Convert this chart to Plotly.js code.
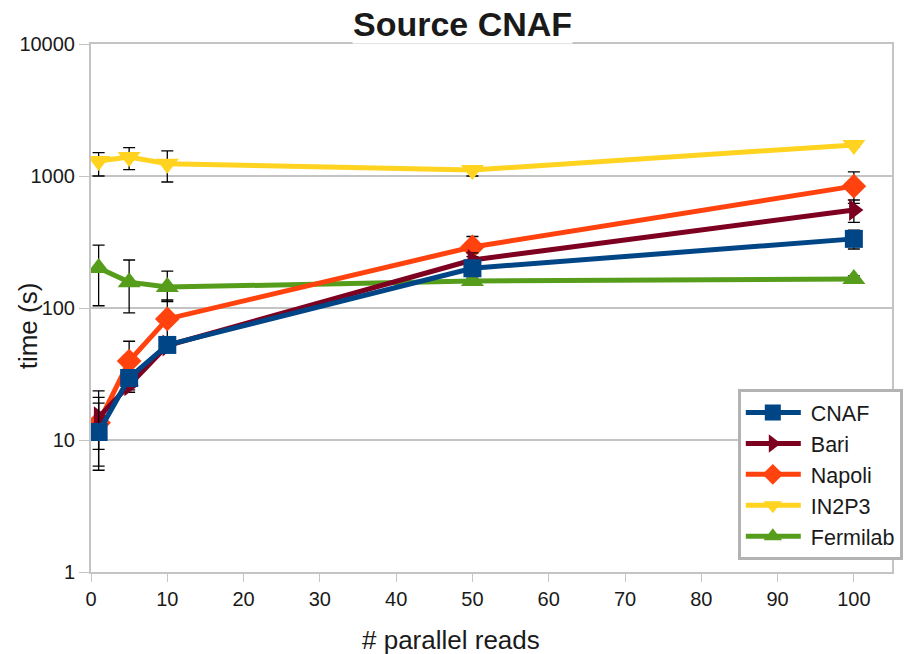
<!DOCTYPE html>
<html><head><meta charset="utf-8">
<script src="https://cdn.plot.ly/plotly-3.0.1.min.js"></script>
<style>body{margin:0;background:#fff}#c{width:904px;height:654px}</style>
</head><body><div id="c"></div>
<script>
const xs = [1, 5, 10, 50, 100];
const seriesNames = ["CNAF", "Bari", "Napoli", "IN2P3", "Fermilab"];
const cnaf = [11.5, 29.5, 52.5, 200, 334];
const cnafHi = [19, 34, 58, 227, 388];
const cnafLo = [8.5, 25.5, 47, 176, 280];
const bari = [14.9, 26, 52, 231, 553];
const bariHi = [23.6, 30, 57, 262, 658];
const bariLo = [5.9, 23, 48, 205, 446];
const napoli = [13.5, 39.6, 82.7, 290, 838];
const napoliHi = [21, 56, 115, 348, 1075];
const napoliLo = [6.35, 24, 60, 245, 620];
const in2p3 = [1300, 1395, 1240, 1110, 1720];
const in2p3Hi = [1502, 1640, 1549, 1184, 1800];
const in2p3Lo = [1000, 1116, 901, 1000, 1661];
const fermilab = [201, 157, 144, 160, 166];
const fermilabHi = [299, 231, 190, 168, 175];
const fermilabLo = [104, 92, 112, 152, 158];
const xTickVals = [0, 10, 20, 30, 40, 50, 60, 70, 80, 90, 100];
const yTickVals = [1, 10, 100, 1000, 10000];
const yTickText = ["1", "10", "100", "1000", "10000"];

const colors = ["#004586", "#7e0021", "#ff420e", "#ffd320", "#579d1c"];
const symbols = ["square", "triangle-right", "diamond", "triangle-down", "triangle-up"];
const sizes = [18, 19, 19, 20, 20];
const vals = [cnaf, bari, napoli, in2p3, fermilab];
const his = [cnafHi, bariHi, napoliHi, in2p3Hi, fermilabHi];
const los = [cnafLo, bariLo, napoliLo, in2p3Lo, fermilabLo];

const traces = [];
for (let i = 4; i >= 0; i--) {
  traces.push({
    x: xs, y: vals[i], name: seriesNames[i], type: "scatter", mode: "lines+markers",
    line: {color: colors[i], width: 5},
    marker: {color: colors[i], symbol: symbols[i], size: sizes[i]},
    error_y: {type: "data", symmetric: false,
      array: vals[i].map((v, k) => his[i][k] - v),
      arrayminus: vals[i].map((v, k) => v - los[i][k]),
      color: "#000", thickness: 1.3, width: 6},
    legendrank: i + 1
  });
}

const font = "Liberation Sans, Arial, sans-serif";
const layout = {
  width: 904, height: 654,
  margin: {l: 91, r: 12, t: 44, b: 82, autoexpand: false},
  paper_bgcolor: "#fff", plot_bgcolor: "#fff",
  font: {family: font, color: "#1a1a1a", size: 20},
  showlegend: true,
  legend: {x: 0.8075, y: 0.3466, xanchor: "left", yanchor: "top",
    bgcolor: "#fff", bordercolor: "#b3b3b3", borderwidth: 3,
    font: {family: font, size: 21.5, color: "#1a1a1a"}, tracegroupgap: 0, itemwidth: 60},
  xaxis: {range: [0, 105], tickvals: xTickVals,
    showgrid: false, zeroline: false, showline: true, linecolor: "#c4c4c4", linewidth: 2, mirror: true,
    ticks: "outside", ticklen: 8, tickcolor: "#c4c4c4", tickfont: {size: 20}},
  yaxis: {type: "log", range: [0, 4], tickvals: yTickVals, ticktext: yTickText,
    showgrid: true, gridcolor: "#c4c4c4", gridwidth: 1.5, zeroline: false,
    showline: true, linecolor: "#c4c4c4", linewidth: 2, mirror: true,
    ticks: "outside", ticklen: 10, tickcolor: "#c4c4c4", tickfont: {size: 20}},
  annotations: [
    {text: "<b>Source CNAF</b>", xref: "paper", yref: "paper", x: 0.464, y: 1.038, yanchor: "middle",
      showarrow: false, font: {family: font, size: 34, color: "#1a1a1a"}, bgcolor: "#fff", borderpad: 0},
    {text: "# parallel reads", xref: "paper", yref: "paper", x: 0.45, y: -0.129, yanchor: "middle",
      showarrow: false, font: {family: font, size: 26, color: "#1a1a1a"}},
    {text: "time (s)", xref: "paper", yref: "paper", x: -0.0775, y: 0.467, xanchor: "center", yanchor: "middle", textangle: -90,
      showarrow: false, font: {family: font, size: 26, color: "#1a1a1a"}}
  ]
};
Plotly.newPlot("c", traces, layout, {displayModeBar: false, staticPlot: true}).then(function (gd) {
  gd.querySelectorAll(".legend .traces").forEach(function (t) {
    t.querySelectorAll("path.js-line").forEach(function (p) { p.setAttribute("d", "M5,0h55"); });
    t.querySelectorAll(".legendpoints path.scatterpts").forEach(function (p) {
      p.setAttribute("transform", "translate(32,0)");
    });
  });
});
</script></body></html>
